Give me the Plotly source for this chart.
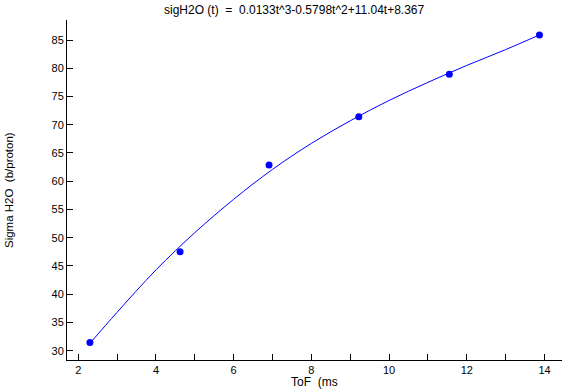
import plotly.graph_objects as go

# measured data points
tof = [2.30, 4.62, 6.91, 9.22, 11.55, 13.87]
sigma = [31.45, 47.5, 62.85, 71.4, 78.95, 85.9]

# fitted curve
curve_t = [2.30, 3.0, 4.0, 5.0, 6.0, 7.0, 8.0, 9.0, 10.0, 11.0, 12.0, 13.0, 13.87]
curve_s = [31.3, 36.8, 44.3, 50.9, 56.8, 62.1, 66.7, 70.7, 74.3, 77.5, 80.5, 83.3, 85.9]

title_text = "sigH2O (t)  =  0.0133t^3-0.5798t^2+11.04t+8.367"
x_label = "ToF  (ms"
y_label = "Sigma H2O  (b/proton)"
x_ticks = [2, 4, 6, 8, 10, 12, 14]
y_ticks = [30, 35, 40, 45, 50, 55, 60, 65, 70, 75, 80, 85]

FONT = "Liberation Sans, Arial, sans-serif"

fig = go.Figure()
fig.add_trace(go.Scatter(x=curve_t, y=curve_s, mode="lines",
                         line=dict(color="#0000ff", width=1, shape="spline"),
                         hoverinfo="skip", showlegend=False))
fig.add_trace(go.Scatter(x=tof, y=sigma, mode="markers",
                         marker=dict(color="#0000ff", size=7, line=dict(width=0)),
                         showlegend=False))

fig.update_layout(
    width=587, height=390,
    margin=dict(l=67, r=25, t=20, b=30),
    paper_bgcolor="white", plot_bgcolor="white",
    font=dict(family=FONT, size=11, color="black"),
    xaxis=dict(range=[1.71, 14.45], tickvals=x_ticks, ticks="inside", ticklen=6,
               tickcolor="black", showline=True, linecolor="black", linewidth=1,
               showgrid=False, zeroline=False,
               minor=dict(dtick=1, ticks="inside", ticklen=6, tickcolor="black", showgrid=False),
               tickfont=dict(size=11)),
    yaxis=dict(range=[28.35, 88.54], tickvals=y_ticks, ticks="inside", ticklen=6,
               tickcolor="black", showline=True, linecolor="black", linewidth=1,
               showgrid=False, zeroline=False, tickfont=dict(size=11)),
    annotations=[
        dict(text=title_text, xref="paper", yref="paper", x=0.46, y=1.0, yshift=10,
             xanchor="center", yanchor="middle", showarrow=False, font=dict(size=12)),
        dict(text=x_label, xref="paper", yref="paper", x=0.5, y=0, yshift=-22,
             xanchor="center", yanchor="middle", showarrow=False, font=dict(size=12)),
        dict(text=y_label, xref="paper", yref="paper", x=0, xshift=-58, y=0.5,
             xanchor="center", yanchor="middle", textangle=-90, showarrow=False,
             font=dict(size=11.5)),
    ],
)

fig.write_html("out.html")
